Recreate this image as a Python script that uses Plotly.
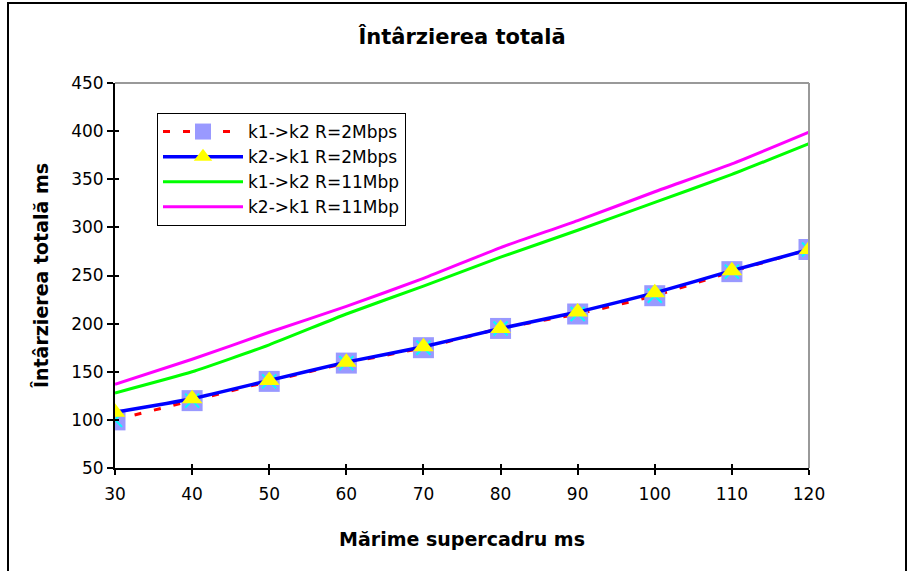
import plotly.graph_objects as go

# Frame size (supercadru) in ms
frame_ms = [30, 40, 50, 60, 70, 80, 90, 100, 110, 120]

# Total delay in ms for each direction / rate
k1_k2_2mbps = [100, 120, 140, 159, 175, 195, 210, 229, 254, 277]
k2_k1_2mbps = [108, 122, 141, 160, 176, 195, 212, 232, 255, 277]
k1_k2_11mbps = [128, 150, 178, 210, 239, 269, 297, 326, 355, 387]
k2_k1_11mbps = [137, 163, 191, 218, 247, 279, 307, 337, 366, 399]

names = ["k1->k2 R=2Mbps", "k2->k1 R=2Mbps", "k1->k2 R=11Mbp", "k2->k1 R=11Mbp"]

FONT = "DejaVu Sans"
W, H = 909, 571
ML, MR, MT, MB = 115, 100, 83, 103
PW, PH = W - ML - MR, H - MT - MB


def px_to_paper_x(px):
    return (px - ML) / PW


def px_to_paper_y(py):
    return (H - MB - py) / PH


fig = go.Figure()

# 2 Mbps, k1->k2 : red dashed line with lavender square markers
fig.add_trace(go.Scatter(
    x=frame_ms, y=k1_k2_2mbps, name=names[0], mode="lines+markers",
    line=dict(color="#FF0000", width=3, dash="7px,13px", shape="spline", smoothing=0.5),
    marker=dict(symbol="square", size=21, color="#9999FF", line=dict(width=0)),
))
# cyan cross drawn on top of the squares
fig.add_trace(go.Scatter(
    x=frame_ms, y=k1_k2_2mbps, mode="markers", showlegend=False, hoverinfo="skip",
    marker=dict(symbol="x-thin", size=14, color="#00FFFF", line=dict(width=2, color="#00FFFF")),
))
# 2 Mbps, k2->k1 : blue line with yellow triangles
fig.add_trace(go.Scatter(
    x=frame_ms, y=k2_k1_2mbps, name=names[1], mode="lines+markers",
    line=dict(color="#0000FF", width=3.5, shape="spline", smoothing=0.5),
    marker=dict(symbol="triangle-up", size=18, color="#FFFF00", line=dict(width=0)),
))
# 11 Mbps lines
fig.add_trace(go.Scatter(
    x=frame_ms, y=k1_k2_11mbps, name=names[2], mode="lines",
    line=dict(color="#00FF00", width=3, shape="spline", smoothing=0.5),
))
fig.add_trace(go.Scatter(
    x=frame_ms, y=k2_k1_11mbps, name=names[3], mode="lines",
    line=dict(color="#FF00FF", width=3, shape="spline", smoothing=0.5),
))

tick_font = dict(family=FONT, size=17, color="#000000")
title_font = dict(family=FONT, size=19, color="#000000")

fig.update_layout(
    width=W, height=H,
    margin=dict(l=ML, r=MR, t=MT, b=MB),
    paper_bgcolor="#FFFFFF", plot_bgcolor="#FFFFFF",
    title=dict(text="<b>Întârzierea totală</b>", x=(ML + PW / 2) / W, xanchor="center",
               y=1 - 37 / H, yanchor="middle", font=dict(family=FONT, size=21, color="#000000")),
    xaxis=dict(
        range=[30, 120], tickvals=frame_ms, ticks="outside", ticklen=5, tickwidth=1.5,
        tickcolor="#000000", showline=True, linecolor="#000000", linewidth=2,
        showgrid=False, zeroline=False, tickfont=tick_font, ticklabelstandoff=5,
        title=dict(text="<b>Mărime supercadru ms</b>", font=title_font, standoff=29),
    ),
    yaxis=dict(
        range=[50, 450], dtick=50, tick0=50, ticks="outside", ticklen=6, tickwidth=1.5,
        tickcolor="#000000", showline=True, linecolor="#000000", linewidth=2,
        showgrid=False, zeroline=False, tickfont=tick_font,
        title=dict(text="<b>Întârzierea totală ms</b>", font=title_font, standoff=17),
    ),
    # companion axes providing the inner half of the cross tick marks
    xaxis2=dict(overlaying="x", anchor="y", side="bottom", range=[30, 120], tickvals=frame_ms,
                ticks="inside", ticklen=4, tickwidth=1.5, tickcolor="#000000",
                showticklabels=False, showline=False, showgrid=False, zeroline=False),
    yaxis2=dict(overlaying="y", anchor="x", side="left", range=[50, 450], dtick=50, tick0=50,
                ticks="inside", ticklen=4, tickwidth=1.5, tickcolor="#000000",
                showticklabels=False, showline=False, showgrid=False, zeroline=False),
    legend=dict(
        x=px_to_paper_x(157), y=px_to_paper_y(113), xanchor="left", yanchor="top",
        bgcolor="#FFFFFF", bordercolor="#000000", borderwidth=1,
        font=dict(family=FONT, size=17, color="#000000"),
        itemwidth=80, tracegroupgap=0,
    ),
    showlegend=True,
    shapes=[
        # grey top and right edges of the plot area
        dict(type="line", xref="x domain", yref="y domain", x0=0, x1=1, y0=1, y1=1,
             line=dict(color="#999999", width=2)),
        dict(type="line", xref="x domain", yref="y domain", x0=1, x1=1, y0=0, y1=1,
             line=dict(color="#999999", width=2)),
        # outer chart frame
        dict(type="rect", xref="paper", yref="paper",
             x0=px_to_paper_x(8), x1=px_to_paper_x(906),
             y0=px_to_paper_y(580), y1=px_to_paper_y(3),
             line=dict(color="#000000", width=2), layer="below"),
    ],
)

# empty trace so the companion axes are rendered
fig.add_trace(go.Scatter(x=[None], y=[None], xaxis="x2", yaxis="y2", showlegend=False,
                         hoverinfo="skip"))

fig.write_html("out.html")
